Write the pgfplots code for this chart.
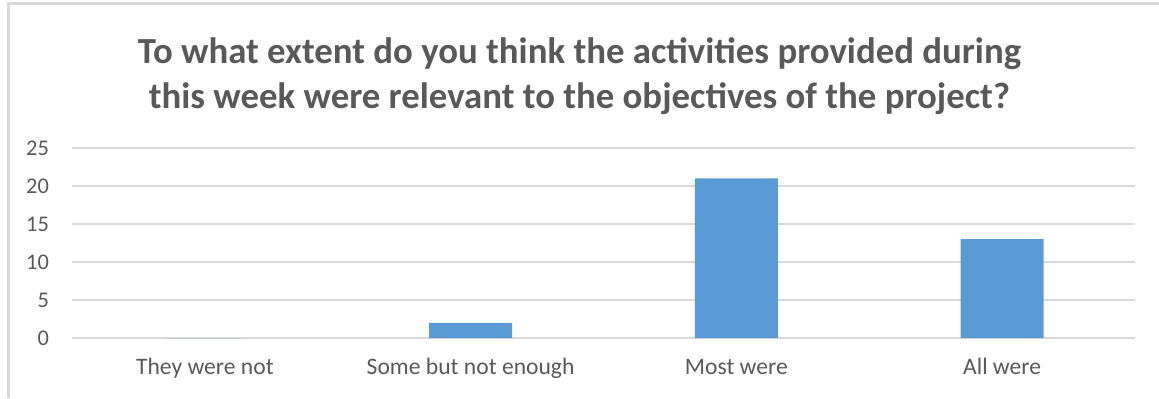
\documentclass[border=0pt]{standalone}
\usepackage{pgfplots}
\pgfplotsset{compat=1.18}
\usepackage{fontspec}
\setmainfont{Carlito}
\definecolor{txt}{HTML}{595959}
\definecolor{gridc}{HTML}{D9D9D9}
\definecolor{barc}{HTML}{5B9BD5}
\begin{document}
\begin{tikzpicture}
\path[use as bounding box] (0pt,0pt) rectangle (579.5pt,199pt);
\draw[gridc, line width=1.2pt] (4.25pt,0pt) -- (4.25pt,197.25pt) -- (579.5pt,197.25pt);
\node[align=center, text=txt, font=\fontsize{18.4pt}{22.3pt}\selectfont\bfseries] at (289.75pt,161pt) {To what extent do you think the activities provided during\\this week were relevant to the objectives of the project?};
\begin{axis}[
  at={(36pt,30pt)}, anchor=south west,
  scale only axis, width=531.5pt, height=95pt,
  xmin=-0.5, xmax=3.5, ymin=0, ymax=25,
  xtick={0,1,2,3},
  xticklabels={They were not, Some but not enough, Most were, All were},
  ytick={0,5,10,15,20,25},
  axis line style={draw=none},
  major tick length=0pt,
  ymajorgrids, grid style={gridc, line width=0.9pt},
  ybar, bar width=41.5pt,
  tick label style={text=txt},
  xticklabel style={font=\fontsize{11.8pt}{13pt}\selectfont, anchor=base, yshift=-18pt},
  yticklabel style={font=\fontsize{11.2pt}{13pt}\selectfont, xshift=-8pt},
  /pgf/number format/assume math mode=true,
  clip=false,
]
\addplot[fill=barc, draw=none] coordinates {(0,0) (1,2) (2,21) (3,13)};
\end{axis}
\end{tikzpicture}
\end{document}
